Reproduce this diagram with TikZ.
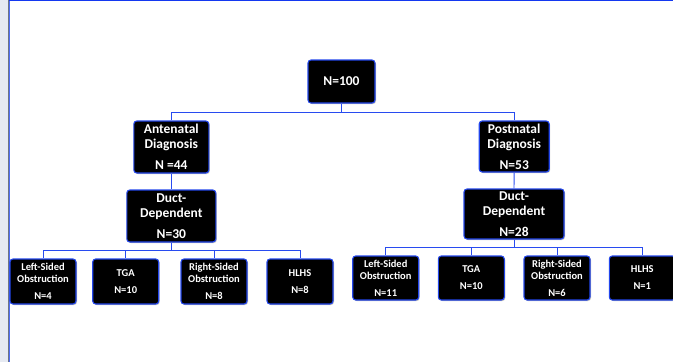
\documentclass[tikz,border=0pt]{standalone}
\usepackage{fontspec}
\setmainfont{Carlito}
\usetikzlibrary{shadows}
\definecolor{boxblue}{RGB}{35,70,235}
\definecolor{lineblue}{RGB}{40,75,240}
\definecolor{frameblue}{RGB}{20,56,240}
\definecolor{stripgray}{RGB}{230,234,242}
\definecolor{edgegray}{RGB}{110,118,132}
\tikzset{
  box/.style={draw=boxblue, line width=1.1pt, fill=black, rounded corners=3pt,
    text=white, font=\bfseries\fontsize{13.5}{15}\selectfont, align=center,
    inner sep=0pt, drop shadow={shadow xshift=1pt, shadow yshift=-1pt, opacity=0.25, fill=black}},
  leaf/.style={box, font=\bfseries\fontsize{10.5}{12}\selectfont, minimum width=66pt},
  conn/.style={draw=lineblue, line width=0.9pt},
}
\begin{document}
\begin{tikzpicture}[x=1pt,y=-1pt]
\useasboundingbox (0,0) rectangle (673,362);
\clip (0,0) rectangle (673,362);
% frame
\fill[stripgray] (0,0) rectangle (7.5,362);
\draw[edgegray, line width=0.8pt] (8,0) -- (8,362);
\draw[color={rgb,255:red,80;green,110;blue,245}, line width=1.4pt] (9.6,0) -- (9.6,362);
\draw[frameblue, line width=1.6pt] (9,0.6) -- (673,0.6);
% nodes
\node[box, minimum width=67pt, minimum height=43pt] (root) at (341.5,81.5) {N=100};
\node[box, minimum width=75pt, minimum height=52pt] (ante) at (171.3,147) {Antenatal\\Diagnosis\\[6pt]N =44};
\node[box, minimum width=70pt, minimum height=51pt] (post) at (514.2,146.5) {Postnatal\\Diagnosis\\[6pt]N=53};
\node[box, minimum width=89pt, minimum height=52pt] (dda) at (171.3,216) {Duct-\\Dependent\\[6pt]N=30};
\node[box, minimum width=100pt, minimum height=50pt] (ddp) at (514,214) {Duct-\\Dependent\\[6pt]N=28};
% left leaves
\node[leaf, minimum height=45pt] (la) at (43,281.5) {Left-Sided\\Obstruction\\[5pt]N=4};
\node[leaf, minimum height=45pt] (lb) at (125.7,281.5) {TGA\\[5pt]N=10};
\node[leaf, minimum height=45pt] (lc) at (214,281.5) {Right-Sided\\Obstruction\\[5pt]N=8};
\node[leaf, minimum height=45pt] (ld) at (300,281.5) {HLHS\\[5pt]N=8};
% right leaves
\node[leaf, minimum height=44pt] (ra) at (385.7,278) {Left-Sided\\Obstruction\\[5pt]N=11};
\node[leaf, minimum height=44pt] (rb) at (471.3,278) {TGA\\[5pt]N=10};
\node[leaf, minimum height=44pt] (rc) at (557,278) {Right-Sided\\Obstruction\\[5pt]N=6};
\node[leaf, minimum height=44pt] (rd) at (642.3,278) {HLHS\\[5pt]N=1};
% connectors
\coordinate (bus0) at (341.5,112.3);
\draw[conn] (root.south) -- (bus0);
\draw[conn] (ante.north) |- (bus0) -| (post.north);
\draw[conn] (ante.south) -- (dda.north);
\draw[conn] (post.south) -- (ddp.north);
\coordinate (busl) at (171.3,250.3);
\draw[conn] (dda.south) -- (busl);
\foreach \n in {la,lb,lc,ld} \draw[conn] (busl) -| (\n.north);
\coordinate (busr) at (514,247.7);
\draw[conn] (ddp.south) -- (busr);
\foreach \n in {ra,rb,rc,rd} \draw[conn] (busr) -| (\n.north);
\end{tikzpicture}
\end{document}
